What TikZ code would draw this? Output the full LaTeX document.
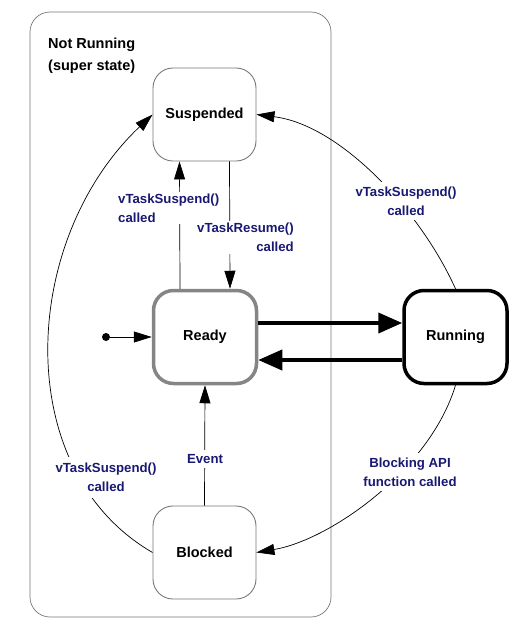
\documentclass[tikz,border=0pt]{standalone}
\usepackage{fontspec}
\setmainfont{Liberation Sans}
\usetikzlibrary{arrows.meta}
\definecolor{lblblue}{RGB}{25,25,115}
\definecolor{boxgray}{RGB}{120,120,120}
\tikzset{
	state/.style={draw=boxgray, line width=0.9pt, rounded corners=20pt, minimum width=103pt, minimum height=93pt, font=\fontsize{14.5}{17}\selectfont\bfseries},
	lbl/.style={fill=white, text=lblblue, inner sep=2pt, font=\fontsize{13.2}{19}\selectfont\bfseries},
	thin/.style={line width=0.7pt, -{Triangle[length=18pt, width=11pt]}},
	thick/.style={line width=4pt, -{Triangle[length=24pt, width=20pt]}}
}
\begin{document}
\begin{tikzpicture}[x=1pt, y=-1pt]
	\useasboundingbox (0,0) rectangle (520,630);
	\node (notrun) at (180.5,314.5) [draw=boxgray, line width=0.7pt, rounded corners=20pt, minimum width=301pt, minimum height=605pt] {};
	\node (nrtext) at (48,38) [anchor=north west, align=left, inner sep=0pt, font=\fontsize{14.5}{21.5}\selectfont\bfseries] {Not Running\\(super state)};
	\node (susp) at (204.5,114.5) [state] {Suspended};
	\node (ready) at (205,337) [state, draw=boxgray!90, line width=3.5pt] {Ready};
	\node (run) at (455.5,337) [state, draw=black, line width=3.5pt] {Running};
	\node (blk) at (204.5,552.5) [state] {Blocked};
	\node (init) at (106,337) [circle, fill, inner sep=0pt, minimum size=8pt] {};
	% transitions
	\draw [thin] (init) -- (ready);
	\draw [thin] ([xshift=-25pt]ready.north) -- ([xshift=-25pt]susp.south);
	\draw [thin] ([xshift=25pt]susp.south) -- ([xshift=25pt]ready.north);
	\draw [thin] (blk.north) -- (ready.south);
	\draw [thick] ([yshift=14pt]ready.east) -- ([yshift=14pt]run.west);
	\draw [thick] ([yshift=-23pt]run.west) -- ([yshift=-23pt]ready.east);
	\draw [thin] (run.north) .. controls (420,210) and (340,125) .. (susp.east);
	\draw [thin] (blk.west) .. controls (10,470) and (20,240) .. (susp.west);
	\draw [thin] (run.south) .. controls (430,470) and (330,540) .. (blk.east);
	% labels
	\node (l1) at (116,208) [lbl, anchor=west, align=left] {vTaskSuspend()\\called};
	\node (l2) at (296,237.5) [lbl, anchor=east, align=right] {vTaskResume()\\called};
	\node (l3) at (406,201) [lbl, align=center, inner sep=5pt] {vTaskSuspend()\\called};
	\node (l4) at (106,477.5) [lbl, align=center, inner sep=6pt] {vTaskSuspend()\\called};
	\node (l5) at (205,459) [lbl, inner sep=4pt] {Event};
	\node (l6) at (410,472) [lbl, align=center, inner sep=5pt] {Blocking API\\function called};
\end{tikzpicture}
\end{document}
